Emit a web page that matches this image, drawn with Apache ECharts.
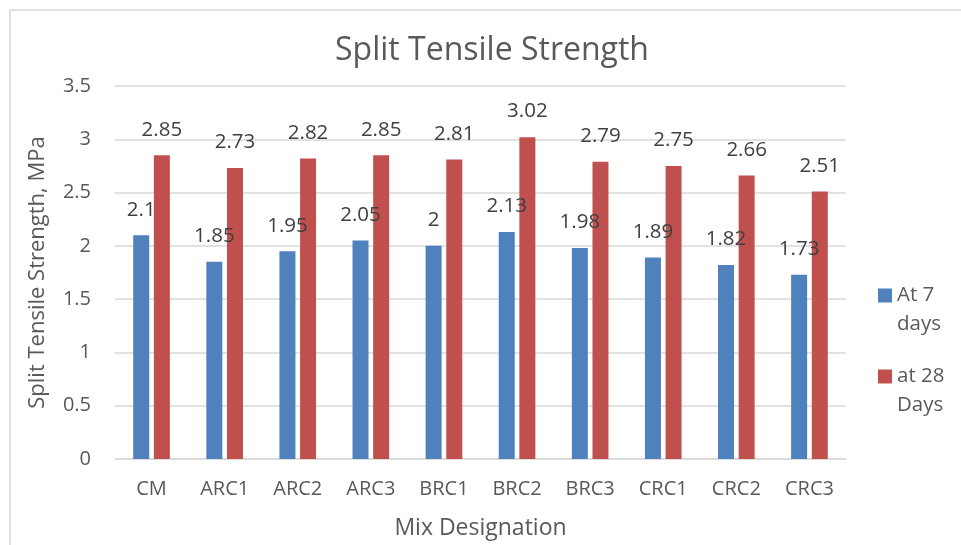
<!DOCTYPE html>
<html>
<head>
<meta charset="utf-8">
<script src="https://cdn.jsdelivr.net/npm/echarts@6/dist/echarts.min.js"></script>
<style>html,body{margin:0;padding:0;background:#fff}#c{width:961px;height:545px}</style>
</head>
<body>
<div id="c"></div>
<script>
const categories = ['CM','ARC1','ARC2','ARC3','BRC1','BRC2','BRC3','CRC1','CRC2','CRC3'];
const at7Days = [2.1, 1.85, 1.95, 2.05, 2, 2.13, 1.98, 1.89, 1.82, 1.73];
const at28Days = [2.85, 2.73, 2.82, 2.85, 2.81, 3.02, 2.79, 2.75, 2.66, 2.51];
const yTicks = { min: 0, max: 3.5, interval: 0.5 };

const FONT = '"Open Sans", sans-serif';
const AX = '#595959';
const chart = echarts.init(document.getElementById('c'), null, {renderer: 'canvas'});

const labelCfg = {
  show: true, position: 'top', distance: 15,
  color: '#404040', fontSize: 20.5, fontFamily: FONT
};

const legendText = { color: AX, fontSize: 20.5, fontFamily: FONT, lineHeight: 29 };

chart.setOption({
  animation: false,
  backgroundColor: '#fff',
  title: {
    text: 'Split Tensile Strength',
    left: 487, top: 30, textAlign: 'center',
    textStyle: { color: AX, fontSize: 32, fontWeight: 'normal', fontFamily: FONT }
  },
  graphic: [{
    type: 'rect', silent: true, z: -1,
    shape: { x: 10, y: 10, width: 1000, height: 600 },
    style: { fill: 'none', stroke: '#D9D9D9', lineWidth: 1.5 }
  }],
  legend: [{
    data: ['At 7 days'], orient: 'vertical', left: 873, top: 247,
    itemWidth: 14, itemHeight: 14, itemGap: 6, icon: 'rect',
    formatter: () => '\u3000\nAt 7\ndays',
    textStyle: legendText
  }, {
    data: ['at 28 Days'], orient: 'vertical', left: 873, top: 328,
    itemWidth: 14, itemHeight: 14, itemGap: 6, icon: 'rect',
    formatter: () => '\u3000\nat 28\nDays',
    textStyle: legendText
  }],
  grid: { left: 115, right: 115, top: 86, bottom: 86, containLabel: false, outerBoundsMode: 'none' },
  xAxis: {
    type: 'category', data: categories,
    name: 'Mix Designation', nameLocation: 'middle', nameGap: 58,
    nameTextStyle: { color: AX, fontSize: 23, fontFamily: FONT },
    axisLine: { lineStyle: { color: '#D9D9D9', width: 1.5 } },
    axisTick: { show: false },
    axisLabel: { color: AX, fontSize: 20, fontFamily: FONT, margin: 20 }
  },
  yAxis: {
    type: 'value', min: yTicks.min, max: yTicks.max, interval: yTicks.interval,
    name: 'Split Tensile Strength, MPa', nameLocation: 'middle', nameGap: 66,
    nameTextStyle: { color: AX, fontSize: 22, fontFamily: FONT },
    axisLine: { show: false }, axisTick: { show: false },
    splitLine: { lineStyle: { color: '#D9D9D9', width: 1.5 } },
    axisLabel: { color: AX, fontSize: 20, fontFamily: FONT, margin: 24 }
  },
  series: [{
    name: 'At 7 days', type: 'bar', data: at7Days,
    barWidth: 16, barGap: '29%',
    itemStyle: { color: '#4F81BD' }, label: labelCfg
  }, {
    name: 'at 28 Days', type: 'bar', data: at28Days,
    barWidth: 16, barGap: '29%',
    itemStyle: { color: '#C0504D' }, label: labelCfg
  }]
});
</script>
</body>
</html>
